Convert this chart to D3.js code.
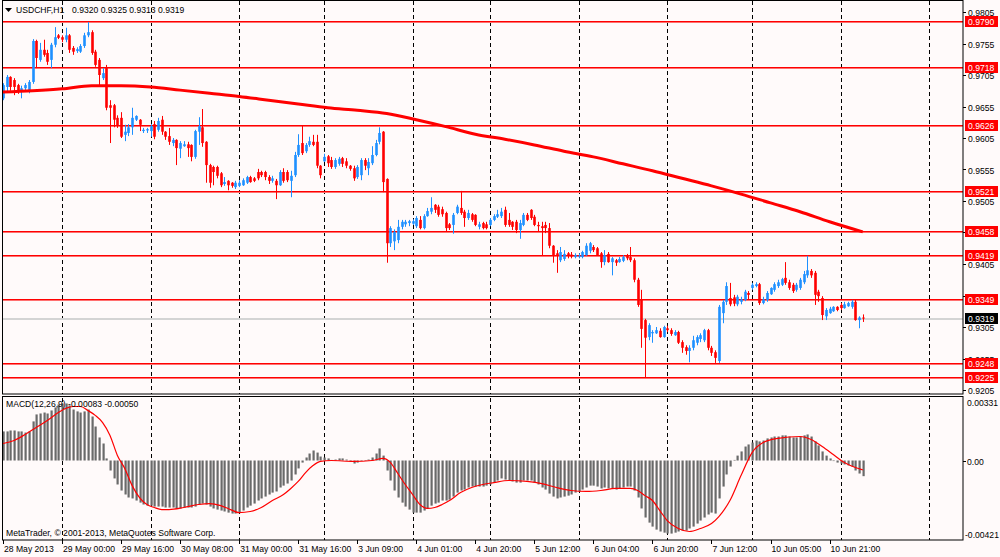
<!DOCTYPE html>
<html lang="en">
<head>
<meta charset="UTF-8">
<script src="https://d3js.org/d3.v7.min.js"></script>
<title>USDCHF,H1</title>
<style>
  body { margin: 0; background: #fffafa; }
  text { font-family: "Liberation Sans", Arial, sans-serif; font-size: 8.6px; fill: #000; }
</style>
</head>
<body>
<svg width="1000" height="557"></svg>
<script>
// ---- data ----
const symbol = "USDCHF,H1";
const lastBar = ["0.9320", "0.9325", "0.9313", "0.9319"];

const opens = [
  0.9668,0.9686,0.9702,0.9697,0.9689,0.9680,0.9684,0.9680,0.9694,0.9759,
  0.9729,0.9745,0.9740,0.9729,0.9753,0.9768,0.9765,0.9761,0.9768,0.9748,
  0.9743,0.9742,0.9751,0.9768,0.9773,0.9742,0.9729,0.9700,0.9716,0.9657,
  0.9657,0.9637,0.9637,0.9610,0.9613,0.9622,0.9634,0.9634,0.9616,0.9617,
  0.9616,0.9627,0.9618,0.9634,0.9615,0.9608,0.9597,0.9602,0.9588,0.9592,
  0.9595,0.9594,0.9575,0.9615,0.9622,0.9599,0.9562,0.9559,0.9559,0.9549,
  0.9532,0.9537,0.9534,0.9527,0.9529,0.9530,0.9534,0.9543,0.9541,0.9551,
  0.9551,0.9551,0.9543,0.9537,0.9537,0.9530,0.9551,0.9551,0.9537,0.9546,
  0.9578,0.9597,0.9584,0.9594,0.9599,0.9599,0.9561,0.9568,0.9576,0.9570,
  0.9559,0.9564,0.9573,0.9568,0.9561,0.9557,0.9543,0.9546,0.9570,0.9557,
  0.9565,0.9578,0.9599,0.9615,0.9540,0.9438,0.9441,0.9443,0.9464,0.9468,
  0.9470,0.9469,0.9465,0.9475,0.9462,0.9481,0.9488,0.9499,0.9496,0.9492,
  0.9486,0.9468,0.9467,0.9486,0.9494,0.9488,0.9478,0.9484,0.9483,0.9464,
  0.9470,0.9468,0.9467,0.9475,0.9480,0.9481,0.9491,0.9475,0.9472,0.9472,
  0.9459,0.9467,0.9483,0.9491,0.9480,0.9467,0.9465,0.9467,0.9462,0.9434,
  0.9422,0.9411,0.9413,0.9422,0.9420,0.9416,0.9416,0.9416,0.9419,0.9426,
  0.9432,0.9430,0.9422,0.9408,0.9421,0.9408,0.9411,0.9408,0.9410,0.9418,
  0.9416,0.9411,0.9380,0.9348,0.9316,0.9289,0.9295,0.9295,0.9299,0.9289,
  0.9303,0.9300,0.9292,0.9297,0.9281,0.9273,0.9267,0.9272,0.9280,0.9286,
  0.9284,0.9300,0.9272,0.9265,0.9251,0.9327,0.9345,0.9351,0.9352,0.9341,
  0.9345,0.9348,0.9359,0.9367,0.9370,0.9373,0.9343,0.9348,0.9357,0.9364,
  0.9370,0.9372,0.9383,0.9376,0.9372,0.9364,0.9367,0.9376,0.9387,0.9394,
  0.9391,0.9361,0.9351,0.9322,0.9327,0.9330,0.9337,0.9340,0.9335,0.9338,
  0.9337,0.9345,0.9316,0.9320
];
const highs = [
  0.9692,0.9705,0.9703,0.9700,0.9691,0.9688,0.9692,0.9697,0.9762,0.9761,
  0.9756,0.9761,0.9745,0.9756,0.9781,0.9770,0.9768,0.9780,0.9770,0.9751,
  0.9749,0.9754,0.9772,0.9789,0.9776,0.9745,0.9732,0.9716,0.9721,0.9665,
  0.9659,0.9641,0.9646,0.9626,0.9627,0.9653,0.9641,0.9635,0.9621,0.9621,
  0.9627,0.9632,0.9637,0.9640,0.9616,0.9621,0.9605,0.9603,0.9600,0.9600,
  0.9599,0.9595,0.9618,0.9638,0.9651,0.9600,0.9564,0.9561,0.9561,0.9551,
  0.9543,0.9538,0.9535,0.9537,0.9538,0.9541,0.9545,0.9545,0.9543,0.9556,
  0.9553,0.9553,0.9546,0.9545,0.9540,0.9554,0.9557,0.9554,0.9553,0.9583,
  0.9611,0.9624,0.9597,0.9607,0.9610,0.9610,0.9562,0.9580,0.9578,0.9575,
  0.9573,0.9575,0.9575,0.9573,0.9562,0.9561,0.9562,0.9573,0.9573,0.9573,
  0.9592,0.9602,0.9622,0.9616,0.9541,0.9465,0.9460,0.9475,0.9475,0.9475,
  0.9475,0.9476,0.9481,0.9481,0.9484,0.9494,0.9511,0.9500,0.9499,0.9496,
  0.9488,0.9470,0.9486,0.9499,0.9521,0.9491,0.9491,0.9486,0.9484,0.9472,
  0.9472,0.9472,0.9478,0.9484,0.9491,0.9494,0.9496,0.9486,0.9473,0.9475,
  0.9475,0.9486,0.9486,0.9492,0.9483,0.9472,0.9472,0.9472,0.9470,0.9435,
  0.9427,0.9432,0.9427,0.9424,0.9424,0.9422,0.9422,0.9426,0.9438,0.9440,
  0.9435,0.9432,0.9424,0.9427,0.9424,0.9416,0.9413,0.9416,0.9419,0.9421,
  0.9432,0.9414,0.9383,0.9364,0.9318,0.9311,0.9300,0.9305,0.9303,0.9307,
  0.9307,0.9303,0.9300,0.9299,0.9284,0.9276,0.9276,0.9291,0.9292,0.9295,
  0.9302,0.9302,0.9275,0.9268,0.9340,0.9348,0.9376,0.9375,0.9356,0.9356,
  0.9353,0.9364,0.9362,0.9375,0.9376,0.9375,0.9353,0.9362,0.9368,0.9376,
  0.9380,0.9383,0.9408,0.9380,0.9375,0.9375,0.9383,0.9394,0.9418,0.9397,
  0.9394,0.9364,0.9354,0.9335,0.9337,0.9338,0.9338,0.9343,0.9345,0.9345,
  0.9348,0.9348,0.9322,0.9325
];
const lows = [
  0.9665,0.9678,0.9680,0.9673,0.9675,0.9668,0.9678,0.9676,0.9691,0.9716,
  0.9726,0.9734,0.9721,0.9716,0.9749,0.9762,0.9757,0.9757,0.9740,0.9737,
  0.9740,0.9740,0.9748,0.9765,0.9737,0.9718,0.9689,0.9697,0.9649,0.9597,
  0.9622,0.9621,0.9605,0.9600,0.9608,0.9610,0.9632,0.9616,0.9613,0.9613,
  0.9607,0.9603,0.9615,0.9610,0.9602,0.9594,0.9592,0.9562,0.9573,0.9591,
  0.9575,0.9568,0.9572,0.9594,0.9591,0.9534,0.9526,0.9530,0.9541,0.9527,
  0.9529,0.9522,0.9526,0.9524,0.9527,0.9529,0.9532,0.9534,0.9535,0.9538,
  0.9543,0.9538,0.9532,0.9534,0.9508,0.9529,0.9534,0.9535,0.9511,0.9543,
  0.9575,0.9578,0.9581,0.9591,0.9592,0.9557,0.9541,0.9567,0.9559,0.9556,
  0.9556,0.9561,0.9559,0.9557,0.9553,0.9537,0.9540,0.9538,0.9554,0.9546,
  0.9562,0.9576,0.9595,0.9519,0.9407,0.9432,0.9427,0.9438,0.9460,0.9464,
  0.9465,0.9467,0.9462,0.9460,0.9460,0.9480,0.9484,0.9486,0.9480,0.9480,
  0.9456,0.9459,0.9453,0.9484,0.9483,0.9464,0.9475,0.9472,0.9465,0.9460,
  0.9460,0.9460,0.9465,0.9473,0.9478,0.9478,0.9464,0.9464,0.9459,0.9454,
  0.9445,0.9465,0.9473,0.9475,0.9465,0.9456,0.9419,0.9454,0.9430,0.9407,
  0.9391,0.9408,0.9410,0.9414,0.9414,0.9414,0.9414,0.9414,0.9418,0.9422,
  0.9424,0.9418,0.9399,0.9403,0.9407,0.9387,0.9402,0.9407,0.9408,0.9411,
  0.9408,0.9376,0.9337,0.9272,0.9224,0.9284,0.9280,0.9294,0.9288,0.9288,
  0.9297,0.9291,0.9291,0.9278,0.9264,0.9261,0.9249,0.9268,0.9276,0.9281,
  0.9281,0.9268,0.9259,0.9248,0.9248,0.9311,0.9340,0.9338,0.9338,0.9338,
  0.9341,0.9346,0.9348,0.9364,0.9368,0.9340,0.9341,0.9345,0.9356,0.9361,
  0.9367,0.9370,0.9372,0.9364,0.9359,0.9361,0.9364,0.9373,0.9383,0.9383,
  0.9340,0.9345,0.9316,0.9316,0.9326,0.9329,0.9330,0.9332,0.9334,0.9337,
  0.9334,0.9315,0.9303,0.9313
];
const closes = [
  0.9689,0.9702,0.9686,0.9686,0.9680,0.9684,0.9689,0.9694,0.9759,0.9732,
  0.9745,0.9737,0.9726,0.9753,0.9765,0.9764,0.9761,0.9768,0.9745,0.9742,
  0.9746,0.9751,0.9768,0.9773,0.9740,0.9721,0.9705,0.9708,0.9653,0.9653,
  0.9634,0.9624,0.9607,0.9615,0.9622,0.9637,0.9640,0.9626,0.9618,0.9619,
  0.9624,0.9607,0.9632,0.9615,0.9607,0.9599,0.9602,0.9589,0.9597,0.9595,
  0.9589,0.9575,0.9616,0.9624,0.9597,0.9562,0.9534,0.9551,0.9545,0.9530,
  0.9535,0.9530,0.9529,0.9534,0.9534,0.9538,0.9543,0.9535,0.9537,0.9541,
  0.9546,0.9543,0.9537,0.9541,0.9530,0.9551,0.9537,0.9538,0.9545,0.9578,
  0.9594,0.9581,0.9594,0.9600,0.9594,0.9561,0.9546,0.9575,0.9565,0.9559,
  0.9570,0.9572,0.9564,0.9561,0.9556,0.9541,0.9559,0.9570,0.9561,0.9567,
  0.9578,0.9597,0.9613,0.9535,0.9438,0.9462,0.9456,0.9464,0.9472,0.9472,
  0.9473,0.9473,0.9478,0.9462,0.9481,0.9489,0.9494,0.9491,0.9483,0.9484,
  0.9462,0.9462,0.9483,0.9496,0.9486,0.9478,0.9486,0.9475,0.9467,0.9468,
  0.9462,0.9462,0.9475,0.9481,0.9484,0.9488,0.9467,0.9467,0.9464,0.9459,
  0.9470,0.9483,0.9475,0.9478,0.9467,0.9465,0.9462,0.9462,0.9434,0.9419,
  0.9418,0.9424,0.9421,0.9418,0.9417,0.9419,0.9418,0.9424,0.9434,0.9438,
  0.9427,0.9419,0.9408,0.9419,0.9408,0.9414,0.9407,0.9413,0.9416,0.9414,
  0.9411,0.9380,0.9340,0.9302,0.9288,0.9308,0.9297,0.9300,0.9289,0.9305,
  0.9300,0.9294,0.9297,0.9280,0.9272,0.9267,0.9272,0.9284,0.9289,0.9292,
  0.9300,0.9272,0.9264,0.9256,0.9337,0.9345,0.9370,0.9341,0.9342,0.9353,
  0.9349,0.9361,0.9356,0.9372,0.9373,0.9343,0.9349,0.9359,0.9367,0.9373,
  0.9376,0.9381,0.9375,0.9367,0.9362,0.9372,0.9380,0.9389,0.9395,0.9387,
  0.9356,0.9354,0.9324,0.9332,0.9334,0.9337,0.9332,0.9335,0.9341,0.9343,
  0.9345,0.9316,0.9320,0.9319
];

// moving average, read every 8 bars
const maBars   = [0,8,16,24,32,40,48,56,64,72,80,88,96,104,112,120,128,136,144,152,160,168,176,184,192,200,208,216,224,233];
const maValues = [0.9678,0.9680,0.9683,0.9688,0.9688,0.9686,0.9681,0.9676,0.9671,0.9665,0.9659,0.9653,0.9649,0.9644,0.9634,
                  0.9623,0.9611,0.9603,0.9594,0.9584,0.9575,0.9564,0.9553,0.9541,0.9529,0.9516,0.9502,0.9488,0.9472,0.9456];

// MACD(12,26,9) main histogram, one value per bar
const macd = [
  0.00154,0.00154,0.00159,0.00159,0.00154,0.00154,0.00148,0.00154,0.00207,0.00244,
  0.00249,0.00254,0.00249,0.00265,0.00281,0.00297,0.00302,0.00302,0.00292,0.00270,
  0.00260,0.00254,0.00260,0.00270,0.00233,0.00180,0.00122,0.00090,0.00011,-0.00053,
  -0.00095,-0.00127,-0.00159,-0.00180,-0.00196,-0.00201,-0.00212,-0.00223,-0.00233,-0.00239,
  -0.00239,-0.00244,-0.00244,-0.00244,-0.00249,-0.00249,-0.00249,-0.00254,-0.00254,-0.00249,
  -0.00249,-0.00249,-0.00244,-0.00233,-0.00228,-0.00233,-0.00244,-0.00254,-0.00260,-0.00265,
  -0.00270,-0.00276,-0.00281,-0.00281,-0.00276,-0.00265,-0.00249,-0.00239,-0.00228,-0.00212,
  -0.00201,-0.00191,-0.00180,-0.00170,-0.00164,-0.00143,-0.00133,-0.00122,-0.00106,-0.00074,
  -0.00042,-0.00011,0.00016,0.00037,0.00053,0.00042,0.00021,0.00016,0.00011,0.00003,
  0.00005,0.00011,0.00011,0.00005,-0.00005,-0.00016,-0.00011,-0.00002,0.00002,0.00005,
  0.00016,0.00037,0.00064,0.00026,-0.00053,-0.00106,-0.00159,-0.00196,-0.00223,-0.00244,
  -0.00260,-0.00276,-0.00276,-0.00276,-0.00265,-0.00254,-0.00239,-0.00228,-0.00223,-0.00212,
  -0.00212,-0.00207,-0.00191,-0.00170,-0.00159,-0.00154,-0.00143,-0.00138,-0.00138,-0.00138,
  -0.00138,-0.00133,-0.00127,-0.00117,-0.00106,-0.00095,-0.00101,-0.00106,-0.00111,-0.00117,
  -0.00117,-0.00106,-0.00106,-0.00106,-0.00117,-0.00127,-0.00143,-0.00154,-0.00175,-0.00191,
  -0.00201,-0.00196,-0.00191,-0.00186,-0.00180,-0.00170,-0.00164,-0.00154,-0.00143,-0.00133,
  -0.00133,-0.00138,-0.00148,-0.00143,-0.00148,-0.00148,-0.00154,-0.00148,-0.00143,-0.00138,
  -0.00138,-0.00159,-0.00196,-0.00254,-0.00302,-0.00329,-0.00350,-0.00366,-0.00376,-0.00382,
  -0.00387,-0.00387,-0.00382,-0.00376,-0.00371,-0.00371,-0.00360,-0.00350,-0.00334,-0.00318,
  -0.00302,-0.00286,-0.00276,-0.00281,-0.00201,-0.00138,-0.00074,-0.00032,0.00003,0.00026,
  0.00048,0.00074,0.00085,0.00095,0.00106,0.00101,0.00106,0.00117,0.00122,0.00127,
  0.00127,0.00133,0.00133,0.00127,0.00122,0.00122,0.00127,0.00133,0.00138,0.00127,
  0.00101,0.00080,0.00048,0.00026,0.00011,-0.00003,-0.00011,-0.00016,-0.00021,-0.00026,
  -0.00032,-0.00053,-0.00069,-0.00083
];
// MACD signal line, read at these bars
const signalBars = [0,3,6,9,12,15,17,19,21,23,25,27,29,31,33,35,37,39,41,43,45,49,53,56,59,61,64,67,70,73,76,78,80,82,84,86,89,95,100,103,
  105,107,109,111,113,115,117,119,121,124,127,130,133,137,142,146,150,154,158,162,166,170,172,174,176,178,180,183,186,189,192,194,197,200,203,206,210,216,219,222,225,228,231,233];
const signalValues = [0.00090,0.00106,0.00138,0.00175,0.00212,0.00254,0.00276,0.00286,0.00286,0.00265,0.00239,0.00201,0.00133,0.00027,-0.00042,-0.00133,-0.00196,-0.00233,-0.00249,-0.00260,
  -0.00260,-0.00249,-0.00233,-0.00228,-0.00239,-0.00254,-0.00276,-0.00270,-0.00249,-0.00212,-0.00180,-0.00148,-0.00111,-0.00064,-0.00027,-0.00005,0.00000,-0.00005,0.00000,0.00011,
  -0.00011,-0.00069,-0.00127,-0.00180,-0.00233,-0.00254,-0.00249,-0.00233,-0.00212,-0.00170,-0.00143,-0.00127,-0.00117,-0.00106,-0.00111,-0.00122,-0.00143,-0.00159,-0.00164,-0.00159,
  -0.00148,-0.00148,-0.00159,-0.00186,-0.00212,-0.00265,-0.00318,-0.00360,-0.00376,-0.00360,-0.00334,-0.00297,-0.00212,-0.00080,0.00042,0.00095,0.00117,0.00127,0.00111,0.00074,
  0.00032,-0.00011,-0.00037,-0.00050];
const macdLabel = "MACD(12,26,9) -0.00083 -0.00050";
const macdTicks = [0.00331, 0, -0.00421];
const macdTickLabels = ["0.00331", "0.00", "-0.00421"];

const priceTicks = [0.9805,0.9755,0.9705,0.9655,0.9605,0.9555,0.9505,0.9455,0.9405,0.9355,0.9305,0.9255,0.9205];
const levels = [0.9790,0.9718,0.9626,0.9521,0.9458,0.9419,0.9349,0.9248,0.9225];
const bid = 0.9319;

const timeBars   = [0,16,32,48,64,80,96,112,128,144,160,176,192,208,224];
const timeLabels = ["28 May 2013","29 May 00:00","29 May 16:00","30 May 08:00","31 May 00:00","31 May 16:00","3 Jun 09:00",
                    "4 Jun 01:00","4 Jun 20:00","5 Jun 12:00","6 Jun 04:00","6 Jun 20:00","7 Jun 12:00","10 Jun 05:00","10 Jun 21:00"];
const dayStarts  = [16,40,64,87,111,132,156,180,203,227,251];

// ---- scales ----
const svg = d3.select("svg");
const x  = d3.scaleLinear().domain([0, 251]).range([3, 929.2]);
const y  = d3.scaleLinear().domain([0.9205, 0.9805]).range([390, 12]);
const ym = d3.scaleLinear().domain([-0.00421, 0.00331]).range([540, 398]);
const px = v => Math.round(v) + 0.5;

const BULL = "#1e90ff", BEAR = "#ff0000";

svg.append("rect").attr("width", 1000).attr("height", 557).attr("fill", "#fffafa");

// day separators through both panes
const sep = svg.append("g").attr("stroke", "#000").attr("stroke-dasharray", "4,3");
sep.selectAll("line.a").data(dayStarts).join("line").attr("class", "a")
  .attr("x1", d => px(x(d))).attr("x2", d => px(x(d)))
  .attr("y1", 1).attr("y2", 394);
sep.selectAll("line.b").data(dayStarts).join("line").attr("class", "b")
  .attr("x1", d => px(x(d))).attr("x2", d => px(x(d)))
  .attr("y1", 398).attr("y2", 540);

// horizontal levels (a red row with a soft edge row) and bid line
const lvl = svg.append("g");
lvl.selectAll("rect.core").data(levels).join("rect").attr("class", "core")
  .attr("x", 2).attr("width", 961)
  .attr("y", d => Math.round(y(d))).attr("height", 1)
  .attr("fill", "#ff0000");
lvl.selectAll("rect.edge").data(levels).join("rect").attr("class", "edge")
  .attr("x", 2).attr("width", 961)
  .attr("y", d => Math.round(y(d)) + 1).attr("height", 1)
  .attr("fill", "#ff7070");
svg.append("rect").attr("x", 2).attr("width", 961)
  .attr("y", Math.round(y(bid))).attr("height", 2)
  .attr("fill", "#d4d4d4");

// candles
const idx = d3.range(closes.length);
const candles = svg.append("g");
candles.selectAll("line").data(idx).join("line")
  .attr("x1", i => px(x(i))).attr("x2", i => px(x(i)))
  .attr("y1", i => y(highs[i])).attr("y2", i => y(lows[i]))
  .attr("stroke", i => closes[i] > opens[i] ? BULL : BEAR);
candles.selectAll("rect").data(idx).join("rect")
  .attr("x", i => Math.round(x(i)) - 0.8).attr("width", 2.6)
  .attr("y", i => y(Math.max(opens[i], closes[i])))
  .attr("height", i => Math.max(1, Math.abs(y(opens[i]) - y(closes[i]))))
  .attr("fill", i => closes[i] > opens[i] ? BULL : BEAR);

// moving average
svg.append("path")
  .attr("d", d3.line().x(d => x(d)).y((d, k) => y(maValues[k])).curve(d3.curveMonotoneX)(maBars))
  .attr("fill", "none").attr("stroke", "#ff0000").attr("stroke-width", 3);

// MACD histogram + signal
svg.append("g").selectAll("rect").data(idx).join("rect")
  .attr("x", i => Math.round(x(i)) - 0.5).attr("width", 2.2)
  .attr("y", i => Math.min(ym(0), ym(macd[i])))
  .attr("height", i => Math.max(0.5, Math.abs(ym(macd[i]) - ym(0))))
  .attr("fill", "#6a6a6a");
svg.append("path")
  .attr("d", d3.line().x(d => x(d)).y((d, k) => ym(signalValues[k])).curve(d3.curveMonotoneX)(signalBars))
  .attr("fill", "none").attr("stroke", "#ff0000").attr("stroke-width", 1.2);

// pane frames
svg.append("rect").attr("x", 2.5).attr("y", 0.5).attr("width", 960.5).attr("height", 393.5)
  .attr("fill", "none").attr("stroke", "#000");
svg.append("rect").attr("x", 2.5).attr("y", 396.5).attr("width", 960.5).attr("height", 143.5)
  .attr("fill", "none").attr("stroke", "#000");

// price axis (labels hidden by level boxes stay underneath, as on the terminal)
const pa = svg.append("g");
pa.selectAll("line").data(priceTicks).join("line")
  .attr("x1", 963).attr("x2", 966).attr("y1", d => px(y(d))).attr("y2", d => px(y(d))).attr("stroke", "#000");
pa.selectAll("text").data(priceTicks).join("text")
  .attr("x", 968).attr("y", d => y(d) + 4).text(d => d.toFixed(4));

const lv = svg.append("g");
lv.selectAll("rect").data(levels).join("rect")
  .attr("x", 965).attr("width", 33).attr("y", d => Math.round(y(d)) - 5).attr("height", 11).attr("fill", "#ff0000");
lv.selectAll("text").data(levels).join("text")
  .attr("x", 968).attr("y", d => Math.round(y(d)) + 4).style("fill", "#fff").text(d => d.toFixed(4));
svg.append("rect").attr("x", 965).attr("width", 33).attr("y", Math.round(y(bid)) - 5).attr("height", 11).attr("fill", "#000");
svg.append("text").attr("x", 968).attr("y", Math.round(y(bid)) + 4).style("fill", "#fff").text(bid.toFixed(4));

// MACD axis
svg.append("line").attr("x1", 963).attr("x2", 966).attr("y1", px(ym(0))).attr("y2", px(ym(0))).attr("stroke", "#000");
svg.selectAll("text.m").data(macdTicks).join("text").attr("class", "m")
  .attr("x", (d, k) => k === 2 ? 965 : 967)
  .attr("y", (d, k) => k === 0 ? 406 : k === 2 ? 538 : ym(d) + 4)
  .text((d, k) => macdTickLabels[k]);

// time axis
svg.append("g").selectAll("line").data(timeBars).join("line")
  .attr("x1", d => px(x(d))).attr("x2", d => px(x(d))).attr("y1", 540).attr("y2", 544).attr("stroke", "#000");
svg.append("g").selectAll("text").data(timeBars).join("text")
  .attr("x", d => x(d) + 1).attr("y", 552).text((d, k) => timeLabels[k]);

// captions
svg.append("path").attr("d", "M5,8 L12,8 L8.5,12 Z").attr("fill", "#000");
svg.append("text").attr("x", 16).attr("y", 13).text(symbol);
svg.append("text").attr("x", 72).attr("y", 13).text(lastBar.join(" "));
svg.append("text").attr("x", 6).attr("y", 407).text(macdLabel);
svg.append("text").attr("x", 6).attr("y", 536).text("MetaTrader, \u00a9 2001-2013, MetaQuotes Software Corp.");
</script>
</body>
</html>
